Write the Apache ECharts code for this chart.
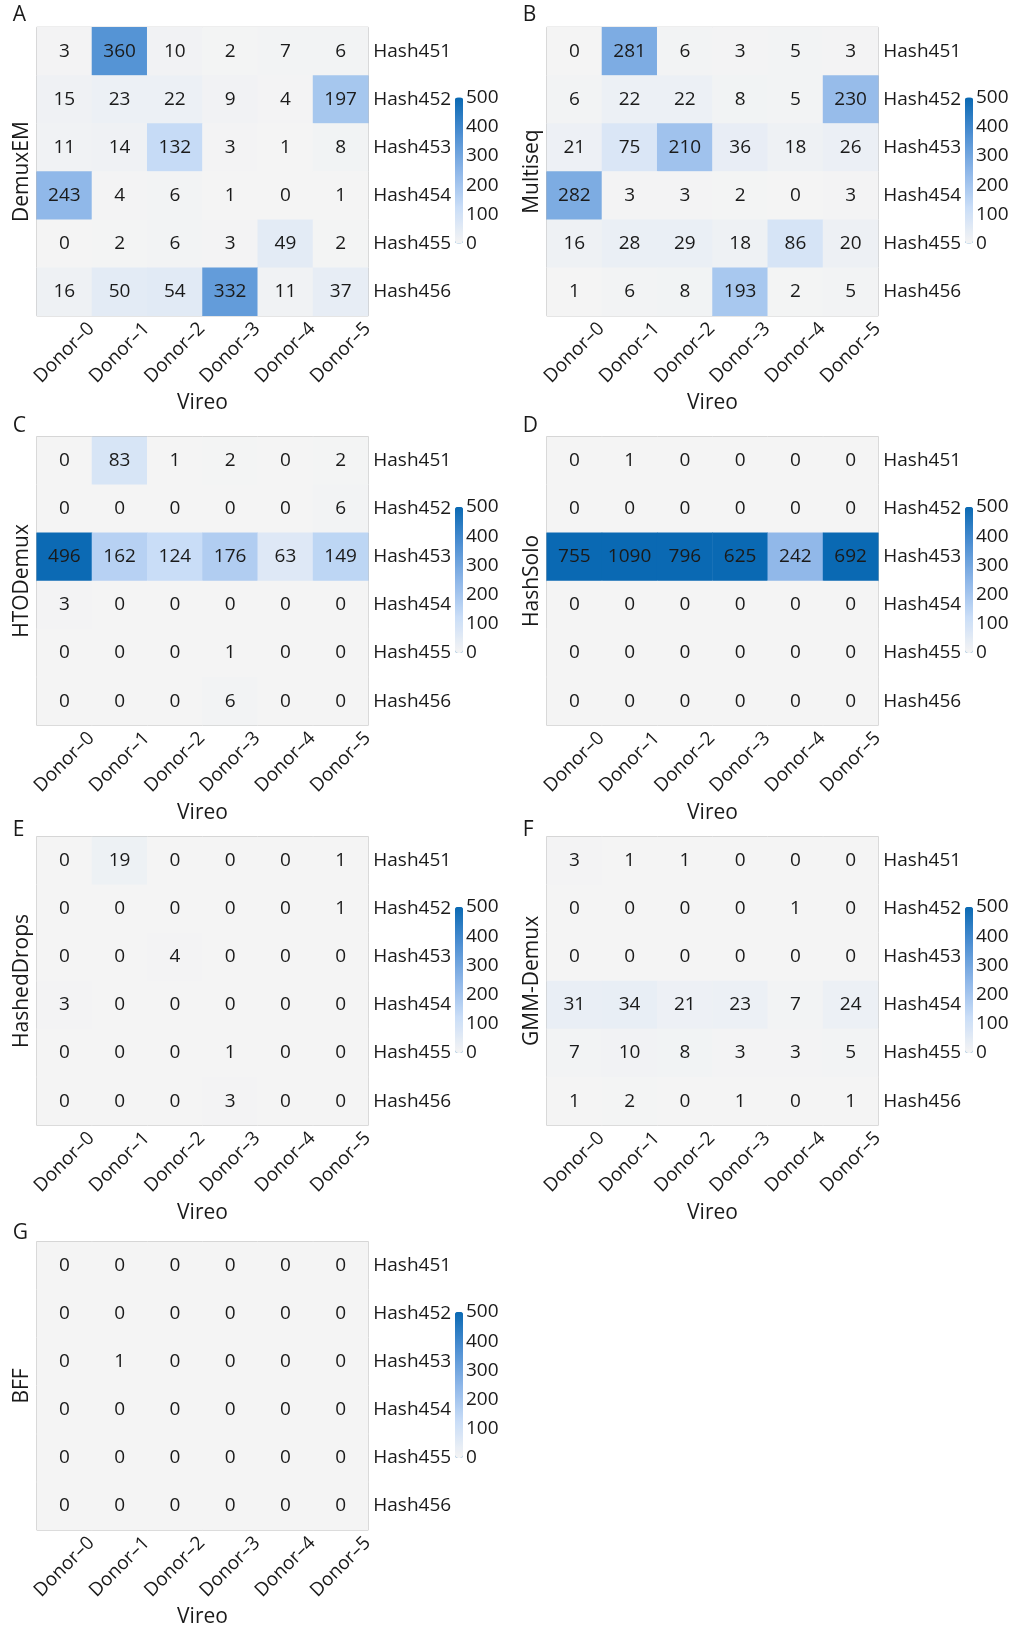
<!DOCTYPE html>
<html>
<head>
<meta charset="utf-8">
<script src="https://cdn.jsdelivr.net/npm/echarts@6/dist/echarts.min.js"></script>
<style>
  html, body { margin: 0; padding: 0; background: #fff; }
  #chart { width: 1018px; height: 1629px; }
</style>
</head>
<body>
<div id="chart"></div>
<script>
// Donor assignments from Vireo (columns) against hashtag calls (rows)
const donors = ['Donor–0', 'Donor–1', 'Donor–2', 'Donor–3', 'Donor–4', 'Donor–5'];
const hashes = ['Hash451', 'Hash452', 'Hash453', 'Hash454', 'Hash455', 'Hash456'];
const methods = ['DemuxEM', 'Multiseq', 'HTODemux', 'HashSolo', 'HashedDrops', 'GMM-Demux', 'BFF'];
const panelLetters = ['A', 'B', 'C', 'D', 'E', 'F', 'G'];

// Cell counts, one row per hashtag (Hash451..Hash456), one column per donor
const demuxEM = [
  [3, 360, 10, 2, 7, 6],
  [15, 23, 22, 9, 4, 197],
  [11, 14, 132, 3, 1, 8],
  [243, 4, 6, 1, 0, 1],
  [0, 2, 6, 3, 49, 2],
  [16, 50, 54, 332, 11, 37]
];
const multiseq = [
  [0, 281, 6, 3, 5, 3],
  [6, 22, 22, 8, 5, 230],
  [21, 75, 210, 36, 18, 26],
  [282, 3, 3, 2, 0, 3],
  [16, 28, 29, 18, 86, 20],
  [1, 6, 8, 193, 2, 5]
];
const htoDemux = [
  [0, 83, 1, 2, 0, 2],
  [0, 0, 0, 0, 0, 6],
  [496, 162, 124, 176, 63, 149],
  [3, 0, 0, 0, 0, 0],
  [0, 0, 0, 1, 0, 0],
  [0, 0, 0, 6, 0, 0]
];
const hashSolo = [
  [0, 1, 0, 0, 0, 0],
  [0, 0, 0, 0, 0, 0],
  [755, 1090, 796, 625, 242, 692],
  [0, 0, 0, 0, 0, 0],
  [0, 0, 0, 0, 0, 0],
  [0, 0, 0, 0, 0, 0]
];
const hashedDrops = [
  [0, 19, 0, 0, 0, 1],
  [0, 0, 0, 0, 0, 1],
  [0, 0, 4, 0, 0, 0],
  [3, 0, 0, 0, 0, 0],
  [0, 0, 0, 1, 0, 0],
  [0, 0, 0, 3, 0, 0]
];
const gmmDemux = [
  [3, 1, 1, 0, 0, 0],
  [0, 0, 0, 0, 1, 0],
  [0, 0, 0, 0, 0, 0],
  [31, 34, 21, 23, 7, 24],
  [7, 10, 8, 3, 3, 5],
  [1, 2, 0, 1, 0, 1]
];
const bff = [
  [0, 0, 0, 0, 0, 0],
  [0, 0, 0, 0, 0, 0],
  [0, 1, 0, 0, 0, 0],
  [0, 0, 0, 0, 0, 0],
  [0, 0, 0, 0, 0, 0],
  [0, 0, 0, 0, 0, 0]
];
const matrices = [demuxEM, multiseq, htoDemux, hashSolo, hashedDrops, gmmDemux, bff];

// Colour scale: counts above the top of the scale use the darkest colour
const scaleMin = 0;
const scaleMax = 500;
const scaleStep = 100;
const ramp = ['#f4f4f4', '#c9ddf7', '#8db6e8', '#4d8fd2', '#0a69b3'];

// Layout
const FONT = 'Open Sans';
const TEXT = '#1a1a1a';
const colLeft = [36.7, 546.7];
const rowTop = [27.3, 436.7, 836.7, 1241.7];
const letterTop = [4.5, 416, 819.5, 1222.5];
const W = 331.6;
const H = 288.5;

const grids = [], xAxes = [], yAxes = [], series = [], visualMaps = [], titles = [], graphics = [];

matrices.forEach((m, i) => {
  const left = colLeft[i % 2];
  const top = rowTop[Math.floor(i / 2)];

  grids.push({
    left: left, top: top, width: W, height: H,
    show: true, backgroundColor: '#f4f4f4', borderColor: '#a9a9a9', borderWidth: 1
  });
  xAxes.push({
    type: 'category', gridIndex: i, data: donors, position: 'bottom',
    name: 'Vireo', nameLocation: 'middle', nameGap: 77,
    nameTextStyle: { fontFamily: FONT, fontSize: 21, color: TEXT },
    axisLine: { show: false }, axisTick: { show: false }, splitLine: { show: false },
    axisLabel: {
      rotate: 45, align: 'center', verticalAlign: 'middle', margin: 37,
      fontFamily: FONT, fontSize: 19, color: TEXT, interval: 0
    }
  });
  yAxes.push({
    type: 'category', gridIndex: i, data: hashes, inverse: true, position: 'right',
    axisLine: { show: false }, axisTick: { show: false }, splitLine: { show: false },
    axisLabel: { margin: 5, fontFamily: FONT, fontSize: 19, color: TEXT, interval: 0 }
  });

  const data = [];
  m.forEach((row, r) => row.forEach((v, c) => data.push([c, r, v])));
  series.push({
    type: 'heatmap', xAxisIndex: i, yAxisIndex: i, data: data,
    itemStyle: { borderWidth: 0 },
    label: {
      show: true, formatter: p => String(p.value[2]),
      fontFamily: FONT, fontSize: 19, color: TEXT
    },
    emphasis: { disabled: true }
  });

  visualMaps.push({
    type: 'continuous', seriesIndex: i, min: scaleMin, max: scaleMax,
    calculable: false, hoverLink: false, realtime: false,
    itemWidth: 8, itemHeight: 146, padding: 0,
    left: left + 418.3, top: top + 70.2,
    inRange: { color: ramp },
    outOfRange: { color: [ramp[ramp.length - 1]] }
  });

  titles.push({
    text: panelLetters[i], left: left - 24, top: letterTop[Math.floor(i / 2)], padding: 0,
    textStyle: { fontFamily: FONT, fontSize: 21, fontWeight: 'normal', color: TEXT }
  });

  graphics.push({
    type: 'text', x: left - 15, y: top + H / 2, rotation: Math.PI / 2,
    style: {
      text: methods[i], font: '21px "' + FONT + '"', fill: TEXT,
      textAlign: 'center', textVerticalAlign: 'middle'
    }
  });
});

// Tick labels of each colour bar, drawn by a value axis beside the bar
matrices.forEach((m, i) => {
  const left = colLeft[i % 2];
  const top = rowTop[Math.floor(i / 2)];
  const g = grids.length;
  grids.push({ left: left + 418.3, top: top + 70.2, width: 8, height: 146 });
  xAxes.push({ type: 'value', gridIndex: g, show: false });
  yAxes.push({
    type: 'value', gridIndex: g, position: 'right', min: scaleMin, max: scaleMax, interval: scaleStep,
    axisLine: { show: false }, axisTick: { show: false }, splitLine: { show: false },
    axisLabel: { margin: 3, fontFamily: FONT, fontSize: 19, color: TEXT }
  });
});

const chart = echarts.init(document.getElementById('chart'), null, { renderer: 'canvas' });
chart.setOption({
  backgroundColor: '#ffffff',
  animation: false,
  textStyle: { fontFamily: FONT },
  title: titles,
  grid: grids,
  xAxis: xAxes,
  yAxis: yAxes,
  visualMap: visualMaps,
  series: series,
  graphic: graphics
});
</script>
</body>
</html>
